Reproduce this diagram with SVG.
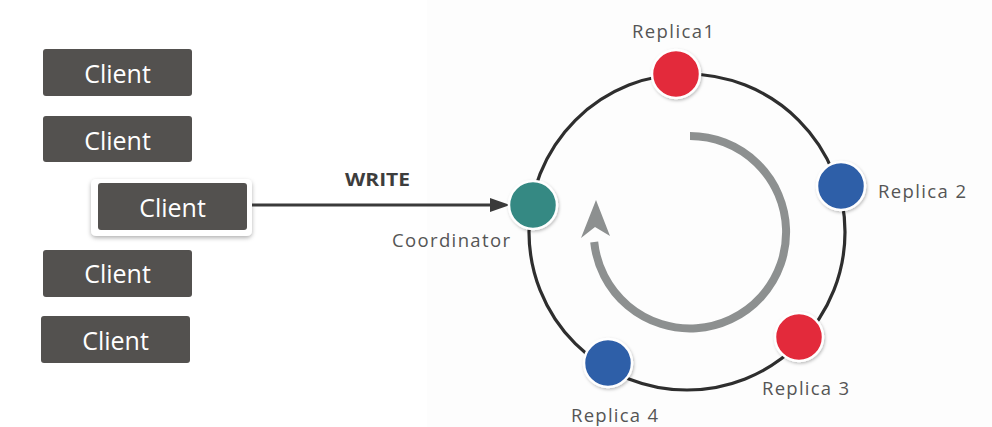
<svg xmlns="http://www.w3.org/2000/svg" width="992" height="427" viewBox="0 0 992 427">
  <defs>
    <style>
      .box { fill: #53514f; }
      .ctext { font-family: "Open Sans", "Liberation Sans", sans-serif; font-size: 25px; fill: #ffffff; text-anchor: middle; }
      .lbl { font-family: "Open Sans", "Liberation Sans", sans-serif; font-size: 18.5px; fill: #555555; }
      .node { stroke: #ffffff; stroke-width: 2.5; filter: url(#sh); }
    </style>
    <filter id="sh" x="-30%" y="-30%" width="160%" height="160%">
      <feDropShadow dx="1" dy="1.5" stdDeviation="1.5" flood-color="#000000" flood-opacity="0.25"/>
    </filter>
    <filter id="bsh" x="-10%" y="-20%" width="120%" height="150%">
      <feDropShadow dx="0" dy="2" stdDeviation="2" flood-color="#000000" flood-opacity="0.3"/>
    </filter>
  </defs>
  <rect x="0" y="0" width="992" height="427" fill="#ffffff"/>
  <rect x="427" y="0" width="565" height="427" fill="#fdfdfd"/>

  <g id="client1"><rect class="box" x="43" y="49" width="149" height="47" rx="3"/><text class="ctext" x="117.5" y="83">Client</text></g>
  <g id="client2"><rect class="box" x="43" y="116" width="149" height="46" rx="3"/><text class="ctext" x="117.5" y="150">Client</text></g>
  <g id="client3">
    <rect x="91" y="179" width="161" height="57" rx="5" fill="#ffffff" filter="url(#bsh)"/>
    <rect class="box" x="98" y="183" width="149" height="47" rx="3"/>
    <text class="ctext" x="172.5" y="217">Client</text>
  </g>
  <g id="client4"><rect class="box" x="43" y="250" width="149" height="47" rx="3"/><text class="ctext" x="117.5" y="283">Client</text></g>
  <g id="client5"><rect class="box" x="41" y="316" width="149" height="47" rx="3"/><text class="ctext" x="115.5" y="350">Client</text></g>

  <g id="connectors">
    <circle cx="687" cy="232" r="158" fill="none" stroke="#2e2e2e" stroke-width="3.2"/>
    <line x1="252" y1="205" x2="494" y2="205" stroke="#3a3a3a" stroke-width="3"/>
    <polygon points="510,205 490,198 490,212" fill="#3a3a3a"/>
    <text x="345" y="186" font-family="'Open Sans', 'Liberation Sans', sans-serif" font-size="18" font-weight="bold" fill="#3d3d3d" textLength="65" lengthAdjust="spacingAndGlyphs">WRITE</text>
    <path d="M690,136 A96.2,96.2 0 1 1 594.2,242" fill="none" stroke="#8d9090" stroke-width="8"/>
    <polygon points="596,200 581,238 595,227 610,236" fill="#8d9090"/>
  </g>

  <g id="coordinator">
    <circle class="node" cx="533" cy="205" r="24" fill="#358983"/>
    <text class="lbl" x="392" y="247" textLength="118" lengthAdjust="spacing">Coordinator</text>
  </g>
  <g id="replica1">
    <circle class="node" cx="676" cy="74" r="24" fill="#e3293a"/>
    <text class="lbl" x="632" y="38" textLength="82" lengthAdjust="spacing">Replica1</text>
  </g>
  <g id="replica2">
    <circle class="node" cx="841" cy="186" r="24" fill="#2e5ea8"/>
    <text class="lbl" x="878" y="198" textLength="88" lengthAdjust="spacing">Replica 2</text>
  </g>
  <g id="replica3">
    <circle class="node" cx="799" cy="337" r="24" fill="#e3293a"/>
    <text class="lbl" x="762" y="395" textLength="87" lengthAdjust="spacing">Replica 3</text>
  </g>
  <g id="replica4">
    <circle class="node" cx="608" cy="363" r="24" fill="#2e5ea8"/>
    <text class="lbl" x="571" y="422" textLength="87" lengthAdjust="spacing">Replica 4</text>
  </g>
</svg>
